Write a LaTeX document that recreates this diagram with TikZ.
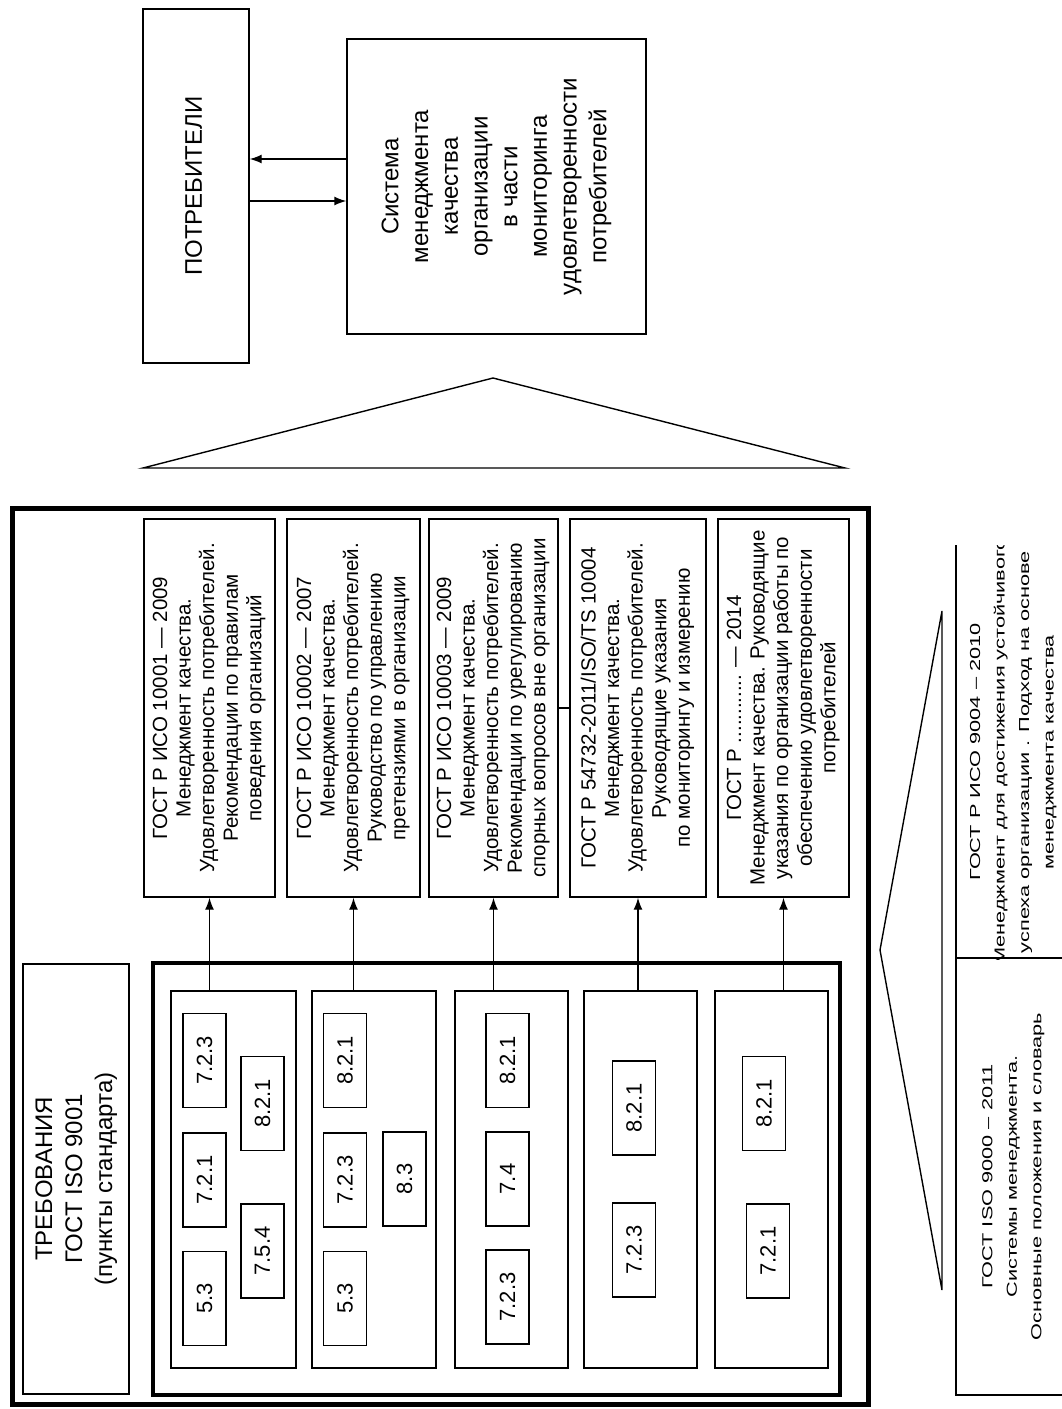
\documentclass[tikz,border=0pt]{standalone}
\usepackage{fontspec}
\setmainfont{Liberation Sans}
\newfontfamily\narrowfont[FakeStretch=1.5]{Liberation Sans}
\usepackage{graphicx}
\usetikzlibrary{arrows.meta}
\tikzset{>={Latex[length=12pt,width=9pt]}}
% rotated, centred block of lines
\newcommand{\vtext}[1]{\rotatebox{90}{\begin{tabular}{@{}c@{}}#1\end{tabular}}}

\begin{document}
\begin{tikzpicture}[x=1pt, y=-1pt, line width=1.4pt,
    box/.style={draw, inner sep=0pt},
    stdbox/.style={box, minimum width=132, minimum height=378, font=\fontsize{20.5}{23.6}\selectfont},
    grp/.style={box, minimum width=113, minimum height=377},
    item/.style={box, minimum width=43, minimum height=94, font=\fontsize{22}{26}\selectfont},
    isobox/.style={box, minimum width=112, font={\narrowfont\fontsize{14.5}{24.5}\selectfont}}]
    \useasboundingbox (0,0) rectangle (1062,1409);

    % consumers and the QMS
    \node[box, minimum width=106, minimum height=354, font=\fontsize{24}{29}\selectfont] (cons) at (196,186) {\vtext{ПОТРЕБИТЕЛИ}};
    \node[box, minimum width=299, minimum height=295, font=\fontsize{24}{29.7}\selectfont] (qms) at (496.5,186.5)
        {\vtext{Система\\менеджмента\\качества\\организации\\в части\\мониторинга\\удовлетворенности\\потребителей}};
    \draw[->] (qms.west |- 0,159) -- (cons.east |- 0,159);
    \draw[->] (cons.east |- 0,201) -- (qms.west |- 0,201);
    \draw (143,468) -- (493,378) -- (845,468) -- cycle;

    % frames
    \draw[line width=5pt] (12,508) rectangle (868,1404);
    \draw[line width=4pt] (153,963) rectangle (840,1395);
    \node[box, minimum width=106, minimum height=430, font=\fontsize{24}{30}\selectfont] (req) at (76,1179)
        {\vtext{ТРЕБОВАНИЯ\\ГОСТ ISO 9001\\(пункты стандарта)}};

    % standards
    \node[stdbox, minimum width=131] (s1) at (209.5,708) {\vtext{ГОСТ Р ИСО 10001 — 2009\\Менеджмент качества.\\Удовлетворенность потребителей.\\Рекомендации по правилам\\поведения организаций}};
    \node[stdbox, minimum width=133] (s2) at (353.5,708) {\vtext{ГОСТ Р ИСО 10002 — 2007\\Менеджмент качества.\\Удовлетворенность потребителей.\\Руководство по управлению\\претензиями в организации}};
    \node[stdbox, minimum width=129] (s3) at (493.5,708) {\vtext{ГОСТ Р ИСО 10003 — 2009\\Менеджмент качества.\\Удовлетворенность потребителей.\\Рекомендации по урегулированию\\спорных вопросов вне организации}};
    \node[stdbox, minimum width=136] (s4) at (638,708) {\vtext{ГОСТ Р 54732-2011/ISO/TS 10004\\Менеджмент качества.\\Удовлетворенность потребителей.\\Руководящие указания\\по мониторингу и измерению}};
    \node[stdbox, minimum width=131] (s5) at (783.5,708) {\vtext{ГОСТ Р ............ — 2014\\Менеджмент качества. Руководящие\\указания по организации работы по\\обеспечению удовлетворенности\\потребителей}};
    \draw (s3.east) -- (s4.west);

    % groups of clauses
    \node[grp, minimum width=125] (g1) at (233.5,1179.5) {};
    \node[grp, minimum width=124] (g2) at (374,1179.5) {};
    \node[grp] (g3) at (511.5,1179.5) {};
    \node[grp] (g4) at (640.5,1179.5) {};
    \node[grp] (g5) at (771.5,1179.5) {};
    \draw[->] (s1.south |- g1.north) -- (s1.south);
    \draw[->] (s2.south |- g2.north) -- (s2.south);
    \draw[->] (s3.south |- g3.north) -- (s3.south);
    \draw[->] (s4.south |- g4.north) -- (s4.south);
    \draw[->] (s5.south |- g5.north) -- (s5.south);

    \node[item] (c11) at (204.5,1060.5) {\rotatebox{90}{7.2.3}};
    \node[item] (c12) at (262.5,1103.5) {\rotatebox{90}{8.2.1}};
    \node[item] (c13) at (204.5,1180) {\rotatebox{90}{7.2.1}};
    \node[item] (c14) at (262.5,1251) {\rotatebox{90}{7.5.4}};
    \node[item] (c15) at (204.5,1298.5) {\rotatebox{90}{5.3}};
    \node[item] (c21) at (345,1060.5) {\rotatebox{90}{8.2.1}};
    \node[item] (c22) at (345,1180) {\rotatebox{90}{7.2.3}};
    \node[item] (c23) at (404.5,1179) {\rotatebox{90}{8.3}};
    \node[item] (c24) at (345,1298.5) {\rotatebox{90}{5.3}};
    \node[item] (c31) at (507.5,1060.5) {\rotatebox{90}{8.2.1}};
    \node[item] (c32) at (507.5,1179) {\rotatebox{90}{7.4}};
    \node[item] (c33) at (507.5,1297) {\rotatebox{90}{7.2.3}};
    \node[item] (c41) at (634,1108) {\rotatebox{90}{8.2.1}};
    \node[item] (c42) at (634,1250) {\rotatebox{90}{7.2.3}};
    \node[item] (c51) at (764,1103.5) {\rotatebox{90}{8.2.1}};
    \node[item] (c52) at (768,1251) {\rotatebox{90}{7.2.1}};

    % basic standards
    \draw (942,611) -- (880,950) -- (942,1290) -- cycle;
    \begin{scope}
        \clip (940,545) rectangle (1062,959);
        \node[isobox, minimum height=412] (iso9004) at (1012,752)
            {\vtext{ГОСТ Р ИСО 9004 – 2010\\Менеджмент для достижения устойчивого\\успеха организации . Подход на основе\\менеджмента качества}};
    \end{scope}
    \begin{scope}
        \clip (940,957) rectangle (1062,1409);
        \node[isobox, minimum height=437] (iso9000) at (1012,1176.5)
            {\vtext{ГОСТ ISO 9000 – 2011\\Системы менеджмента.\\Основные положения и словарь}};
    \end{scope}
\end{tikzpicture}
\end{document}
